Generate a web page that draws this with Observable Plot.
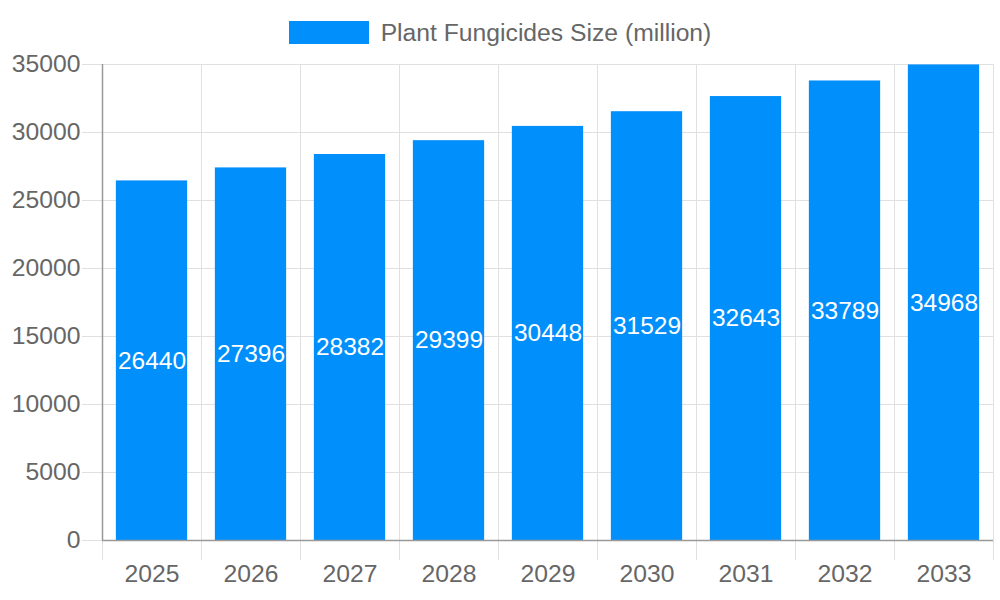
<!DOCTYPE html>
<html>
<head>
<meta charset="utf-8">
<script src="https://cdn.jsdelivr.net/npm/d3@7"></script>
<script src="https://cdn.jsdelivr.net/npm/@observablehq/plot@0.6"></script>
<style>
  body { margin: 0; background: #fff; font-family: "Liberation Sans", Arial, sans-serif; }
  #legend { height: 44px; display: flex; align-items: center; justify-content: center; box-sizing: border-box; padding-top: 20px; }
  #legend .sw { width: 80px; height: 23px; background: #008ffb; margin-right: 12px; }
  #legend .lb { font-size: 24.7px; color: #666; line-height: 23px; }
</style>
</head>
<body>
<div id="legend"><span class="sw"></span><span class="lb">Plant Fungicides Size (million)</span></div>
<div id="chart"></div>
<script>
const years = [2025, 2026, 2027, 2028, 2029, 2030, 2031, 2032, 2033];
const values = [26440, 27396, 28382, 29399, 30448, 31529, 32643, 33789, 34968];
const yTicks = [0, 5000, 10000, 15000, 20000, 25000, 30000, 35000];
const seriesName = "Plant Fungicides Size (million)";

const data = years.map((y, i) => ({year: y, value: values[i]}));
const boundaries = years.map(y => y - 0.5).concat([years[years.length - 1] + 0.5]);
const barHalf = 0.36;

const chart = Plot.plot({
  width: 1000,
  height: 556,
  marginTop: 20,
  marginBottom: 60,
  marginLeft: 102,
  marginRight: 7,
  style: {fontFamily: "Liberation Sans, Arial, sans-serif", fontSize: "25px", color: "#666", background: "#fff"},
  x: {domain: [boundaries[0], boundaries[boundaries.length - 1]]},
  y: {domain: [0, 35000]},
  marks: [
    Plot.gridY(yTicks, {stroke: "#e0e0e0", strokeOpacity: 1}),
    Plot.gridX(boundaries, {stroke: "#e0e0e0", strokeOpacity: 1}),
    Plot.axisY(yTicks, {tickSize: 20, tickPadding: 2, stroke: "#e0e0e0", fill: "#666", fontSize: 24.7, tickFormat: d => String(d), label: null}),
    Plot.axisX(boundaries, {tickSize: 20, stroke: "#e0e0e0", tickFormat: () => "", label: null}),
    Plot.axisX(years, {tickSize: 0, tickPadding: 24, fill: "#666", fontSize: 24.7, tickFormat: d => String(d), label: null}),
    Plot.rectY(data, {x1: d => d.year - barHalf, x2: d => d.year + barHalf, y: "value", fill: "#008ffb"}),
    Plot.ruleX([boundaries[0]], {stroke: "#999", strokeWidth: 1.5}),
    Plot.ruleY([0], {stroke: "#999", strokeWidth: 1.5}),
    Plot.text(data, {x: "year", y: d => d.value / 2, text: d => String(d.value), fill: "#fff", fontSize: 24.5})
  ]
});
document.getElementById("chart").appendChild(chart);
</script>
</body>
</html>
